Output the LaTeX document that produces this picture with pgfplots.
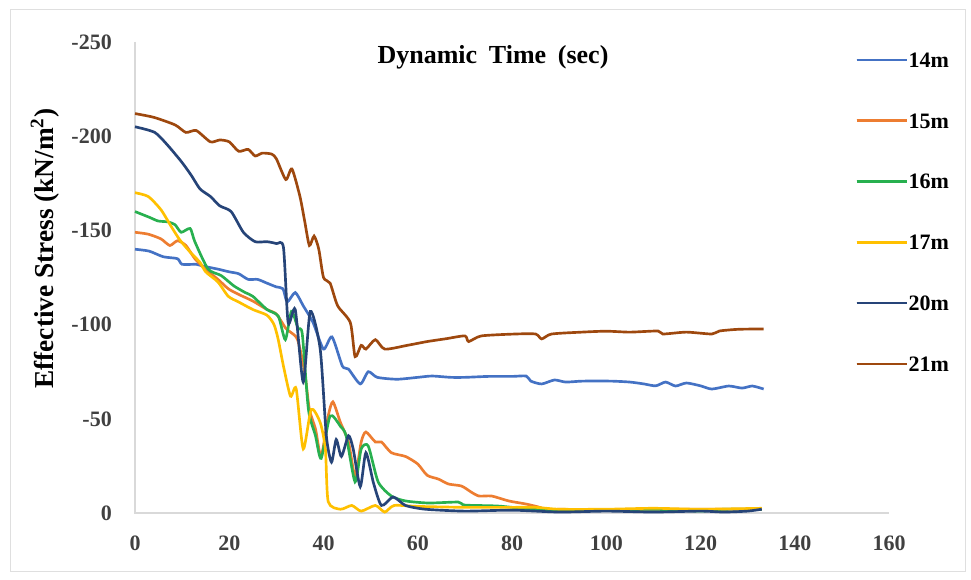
\documentclass[border=0pt]{standalone}
\usepackage{fontspec}
\setmainfont{Liberation Serif}
\usepackage{pgfplots}
\pgfplotsset{compat=1.18}
\definecolor{c14}{HTML}{4472C4}
\definecolor{c15}{HTML}{ED7D31}
\definecolor{c16}{HTML}{28B04F}
\definecolor{c17}{HTML}{FFC000}
\definecolor{c20}{HTML}{264478}
\definecolor{c21}{HTML}{9E480E}
\definecolor{tickgray}{HTML}{404040}
\begin{document}
\begin{tikzpicture}[x=1pt,y=1pt]
\path[use as bounding box] (0,0) rectangle (728.25,435);
\draw[gray!25, line width=0.75pt] (7.5,6.5) rectangle (723.75,427.5);
\begin{axis}[
  at={(101.25pt,50.25pt)}, anchor=south west,
  scale only axis, width=565.5pt, height=353.25pt,
  xmin=0, xmax=160, ymin=-250, ymax=0, y dir=reverse,
  axis line style={draw=none},
  tick style={draw=none},
  xtick={0,20,...,160}, ytick={-250,-200,...,0},
  /pgf/number format/assume math mode=true,
  tick label style={font=\fontsize{16.5}{19}\selectfont\bfseries, text=tickgray},
  xticklabel style={anchor=north, inner sep=0pt, yshift=-16.9pt},
  yticklabel style={anchor=east, inner sep=0pt, xshift=-17.2pt},
  clip=false,
  legend style={at={(axis description cs:0.955,0.978)}, anchor=north west,
    draw=none, fill=none, inner sep=0pt, row sep=34.6pt,
    font=\fontsize{16.5}{19}\selectfont\bfseries,
    nodes={inner sep=0pt, text height=11pt, text depth=0pt}},
  legend cell align=left,
  legend image code/.code={\draw[#1, line width=2pt] (0pt,0pt) -- (34pt,0pt); \path (0pt,0pt) -- (38pt,0pt);},
  every axis plot/.append style={line width=2pt, smooth, tension=0.4, no marks},
]
\draw[gray!30, line width=1.1pt] (axis cs:0,-250) -- (axis cs:0,0) -- (axis cs:160,0);
% 14m
\addplot[c14] coordinates {(0,-140)(3,-139)(6,-136)(9,-135)(10,-132)(13,-132)(14.5,-131)(17.5,-129.5)(20,-128)(22,-127)(24,-124)(26,-124)(28,-122)(30,-120)(31.4,-119)(32.3,-112)(34,-117)(35.7,-110)(37.8,-101)(40,-87)(41.8,-93.5)(44,-78)(45.3,-76.4)(47.8,-68.5)(49.5,-75)(51.4,-72)(55.6,-71)(60,-72)(63,-72.7)(67,-72)(70,-72)(75,-72.5)(80,-72.5)(83,-72.7)(84,-70)(86.3,-68.5)(89,-70.6)(91.4,-69.5)(95,-70)(101,-70)(105,-69.5)(108,-68.5)(110.5,-67.5)(112.6,-69.5)(114.7,-67.4)(117,-69)(120,-67.5)(122.4,-65.8)(126,-67.4)(128.8,-66.3)(131,-67.4)(133.4,-65.8)};
\addlegendentry{14m}
% 15m
\addplot[c15] coordinates {(0,-149)(2.8,-148)(5.5,-145.5)(7.4,-142)(9,-144.5)(10.8,-142)(12.7,-135)(14.9,-129.5)(17.6,-124)(19.8,-119)(22,-116)(25,-112.5)(28,-108)(30,-105.6)(32,-98)(33,-96)(34.5,-92)(36,-75)(37,-55)(38.3,-44.6)(39.5,-30)(41,-51.5)(42,-59)(43.6,-48)(45.3,-37.7)(46.7,-19.6)(48,-37.7)(49,-43)(51,-37.7)(52.3,-37.7)(54.4,-32)(57.4,-30)(60,-26)(62,-20)(64.4,-18)(66.5,-15.4)(69.3,-14.3)(71.4,-11)(73,-9)(75.7,-9)(79.3,-6.4)(82.9,-4.8)(85.6,-3.2)(87.8,-1.5)(90,-2)(100,-1.5)(110,-2)(120,-2)(133,-2)};
\addlegendentry{15m}
% 16m
\addplot[c16] coordinates {(0,-160)(3,-157)(4.9,-155)(7,-154.5)(8.5,-153)(9.8,-149)(11.7,-151)(12.7,-144)(15.5,-129.5)(18.3,-126)(21,-120.5)(23.4,-117)(25,-115)(28,-108)(30.4,-104.5)(31.9,-92)(33.2,-107)(34.6,-98)(35.5,-95)(36.8,-55)(38.3,-41)(39.5,-29)(41.4,-51.5)(43.6,-46)(44.8,-41)(46.7,-16.5)(48,-34)(49.5,-35.5)(51.6,-16.5)(54.4,-9)(57.4,-6.4)(62.3,-5.3)(68.6,-5.8)(70,-4.2)(77,-3.7)(84,-2)(90,-1.5)(100,-1.5)(110,-2)(120,-1)(125,-2)(133,-2)};
\addlegendentry{16m}
% 17m
\addplot[c17] coordinates {(0,-170)(2.8,-168)(5.5,-161)(7.7,-152)(9.5,-145)(11.7,-138.5)(13.8,-133)(15,-128)(17.6,-122.6)(19.8,-115)(22,-112)(25,-108)(28,-105)(29.5,-100)(30.4,-92)(31.5,-78)(33,-62)(34.2,-66)(35.7,-34)(37.4,-55)(39.3,-48)(40.4,-34)(41,-6)(43.6,-2)(46,-4)(48,-1)(51,-4)(53,-0.5)(55,-4)(60,-3.5)(70,-3)(80,-3)(85,-3)(90,-2)(100,-2)(110,-2.5)(120,-2)(133,-2.5)};
\addlegendentry{17m}
% 20m
\addplot[c20] coordinates {(0,-205)(4.2,-202)(7,-195)(10,-186)(12,-179)(13.8,-172)(16,-168)(18,-163)(20.4,-160)(23,-149)(25.5,-144)(28,-144)(30,-143)(31.5,-141)(32.5,-101)(34,-108)(35.7,-69.5)(37.2,-107)(39.3,-87)(40.6,-41)(41.7,-27)(42.7,-39)(43.8,-30)(45.3,-41)(46.3,-34)(47.8,-14)(49,-32)(50.6,-16)(52.3,-4)(54.8,-8.5)(57.4,-4)(61.6,-2)(70,-1)(80,-1.5)(90,-0.5)(100,-1)(110,-0.5)(120,-1)(125,-0.5)(130,-1)(133,-2)};
\addlegendentry{20m}
% 21m
\addplot[c21] coordinates {(0,-212)(4,-210)(8.5,-206)(10.8,-202)(13,-203)(16,-197)(18,-198)(20,-197)(22,-192)(24,-193)(25.5,-189.5)(27,-191)(29,-190.5)(30,-188)(32,-177)(33.3,-182.6)(35,-168)(36,-155)(37,-142)(38,-147)(39,-140)(40,-125)(41.4,-122)(43,-110)(45.7,-101)(46.7,-83)(48,-89)(49,-87)(51,-92)(53,-87)(57.8,-89)(62,-91)(66,-92.5)(70,-94)(70.8,-91)(73.5,-94)(80.7,-95)(85,-95)(86.3,-92.4)(88.4,-95)(94.8,-96)(100,-96.5)(105,-96)(111,-96.6)(112,-95)(117,-96)(122.4,-95)(124,-96.6)(128,-97.5)(133.4,-97.7)};
\addlegendentry{21m}
\end{axis}
\node[font=\fontsize{19.5}{22}\selectfont\bfseries] at (369.75,392.25) {Dynamic\hspace{0.45em}Time\hspace{0.45em}(sec)};
\node[rotate=90, font=\fontsize{20.5}{24}\selectfont\bfseries] at (33.75,248.5) {Effective Stress (kN/m\textsuperscript{2})};
\end{tikzpicture}
\end{document}
